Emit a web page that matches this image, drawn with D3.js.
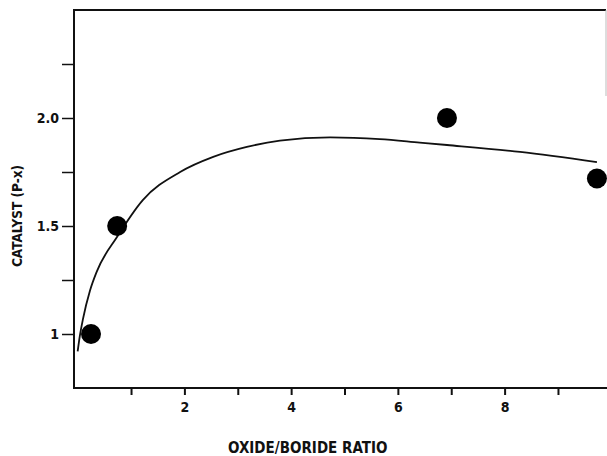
<!DOCTYPE html>
<html lang="en">
  <head>
    <meta charset="UTF-8" />
    <title>Catalyst vs oxide/boride ratio</title>
    <script src="https://cdn.jsdelivr.net/npm/d3@7"></script>
    <style>
      html,
      body {
        margin: 0;
        padding: 0;
        background: #fff;
      }
      text {
        font-family: 'DejaVu Sans', sans-serif;
        font-stretch: condensed;
        font-weight: bold;
        fill: #111;
      }
    </style>
  </head>
  <body>
    <script>
      // measured points
      const ratio = [0.25, 0.74, 6.92, 9.73];
      const catalyst = [1.0, 1.5, 2.0, 1.72];

      // fitted curve
      const curveX = [0.0, 0.04, 0.1, 0.23, 0.36, 0.74, 1.22, 1.92, 2.54, 3.17, 3.79, 4.73, 5.66, 6.41, 6.92, 8.29, 9.73];
      const curveY = [0.92, 0.99, 1.07, 1.2, 1.29, 1.45, 1.62, 1.75, 1.82, 1.866, 1.895, 1.91, 1.902, 1.886, 1.875, 1.843, 1.796];

      const xTicks = [1, 2, 3, 4, 5, 6, 7, 8, 9];
      const xLabels = [2, 4, 6, 8];
      const yTicks = [1, 1.25, 1.5, 1.75, 2, 2.25];
      const yLabels = { 1: '1', 1.5: '1.5', 2: '2.0' };

      const width = 607,
        height = 456;

      const x = d3.scaleLinear().domain([-0.05, 9.9]).range([75, 606]);
      const y = d3.scaleLinear().domain([0.75, 2.5]).range([388, 10]);

      const svg = d3
        .select('body')
        .append('svg')
        .attr('width', width)
        .attr('height', height);

      // frame: top, left, bottom, plus a faint stub on the right
      svg
        .append('path')
        .attr('d', `M606,10H74V388H607`)
        .style('fill', 'none')
        .style('stroke', '#111')
        .style('stroke-width', 2);

      svg
        .append('line')
        .attr('x1', 606)
        .attr('x2', 606)
        .attr('y1', 10)
        .attr('y2', 96)
        .style('stroke', '#bbb')
        .style('stroke-width', 1);

      const xAxis = d3
        .axisBottom(x)
        .tickValues(xTicks)
        .tickSize(7)
        .tickFormat((d) => (xLabels.includes(d) ? d : ''));

      const gx = svg
        .append('g')
        .attr('transform', 'translate(0,388)')
        .call(xAxis);
      gx.select('.domain').remove();
      gx.selectAll('line').style('stroke', '#111').style('stroke-width', 2);
      gx.selectAll('text').attr('dy', '1.0em').style('font-size', '14px');

      const yAxis = d3
        .axisLeft(y)
        .tickValues(yTicks)
        .tickSize(12)
        .tickPadding(3)
        .tickFormat((d) => yLabels[d] || '');

      const gy = svg
        .append('g')
        .attr('transform', 'translate(74,0)')
        .call(yAxis);
      gy.select('.domain').remove();
      gy.selectAll('line').style('stroke', '#111').style('stroke-width', 1.5);
      gy.selectAll('text').style('font-size', '14px');

      const line = d3
        .line()
        .x((d, i) => x(curveX[i]))
        .y((d) => y(d))
        .curve(d3.curveMonotoneX);

      svg
        .append('path')
        .attr('d', line(curveY))
        .style('fill', 'none')
        .style('stroke', '#111')
        .style('stroke-width', 1.8);

      svg
        .selectAll('circle.pt')
        .data(ratio)
        .join('circle')
        .attr('class', 'pt')
        .attr('cx', (d) => x(d))
        .attr('cy', (d, i) => y(catalyst[i]))
        .attr('r', 10)
        .style('fill', '#000');

      svg
        .append('text')
        .attr('x', 228)
        .attr('y', 453)
        .style('font-size', '15px')
        .text('OXIDE/BORIDE RATIO');

      svg
        .append('text')
        .attr('transform', 'translate(22,216) rotate(-90)')
        .attr('text-anchor', 'middle')
        .style('font-size', '13.5px')
        .text('CATALYST (P-x)');
    </script>
  </body>
</html>
